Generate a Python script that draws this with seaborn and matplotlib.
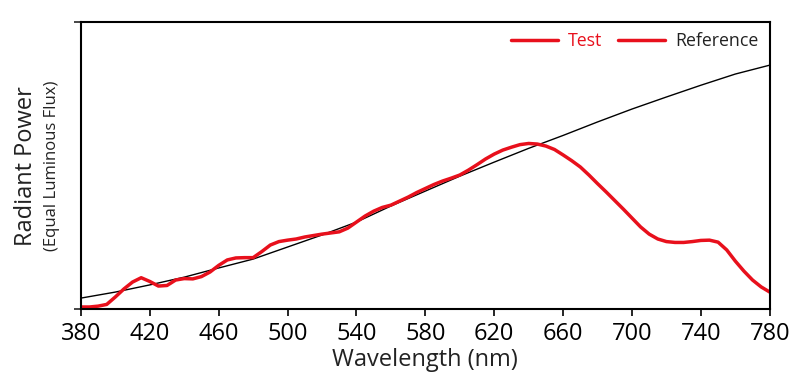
import matplotlib.pyplot as plt
import seaborn as sns
import pandas as pd
from matplotlib.lines import Line2D

# ---------- dados ----------
test_wl = [380, 385, 390, 395, 400, 405, 410, 415, 420, 425, 430, 435, 440, 445,
           450, 455, 460, 465, 470, 475, 480, 485, 490, 495, 500, 505, 510, 515,
           520, 525, 530, 535, 540, 545, 550, 555, 560, 565, 570, 575, 580, 585,
           590, 595, 600, 605, 610, 615, 620, 625, 630, 635, 640, 645, 650, 655,
           660, 665, 670, 675, 680, 685, 690, 695, 700, 705, 710, 715, 720, 725,
           730, 735, 740, 745, 750, 755, 760, 765, 770, 775, 780]
test_power = [0.007, 0.007, 0.010, 0.016, 0.042, 0.070, 0.094, 0.109, 0.096, 0.080,
              0.082, 0.101, 0.106, 0.105, 0.113, 0.129, 0.152, 0.171, 0.178, 0.179,
              0.179, 0.200, 0.223, 0.235, 0.240, 0.244, 0.251, 0.256, 0.261, 0.265,
              0.269, 0.282, 0.303, 0.324, 0.341, 0.354, 0.362, 0.376, 0.390, 0.406,
              0.420, 0.434, 0.446, 0.456, 0.467, 0.484, 0.503, 0.523, 0.540, 0.554,
              0.564, 0.573, 0.577, 0.575, 0.568, 0.556, 0.537, 0.517, 0.495, 0.467,
              0.437, 0.408, 0.378, 0.348, 0.317, 0.286, 0.261, 0.244, 0.235, 0.232,
              0.232, 0.235, 0.239, 0.240, 0.233, 0.206, 0.167, 0.132, 0.101, 0.077,
              0.059]

ref_wl = [380, 400, 420, 440, 460, 480, 500, 520, 540, 560, 580, 600, 620, 640,
          660, 680, 700, 720, 740, 760, 780]
ref_power = [0.038, 0.059, 0.084, 0.111, 0.143, 0.174, 0.216, 0.258, 0.303, 0.359,
             0.411, 0.463, 0.512, 0.560, 0.605, 0.652, 0.697, 0.739, 0.780, 0.819,
             0.850]

x_ticks = [380, 420, 460, 500, 540, 580, 620, 660, 700, 740, 780]

sns.set_theme(style="white")
plt.rcParams["font.family"] = ["Open Sans", "DejaVu Sans"]

df_test = pd.DataFrame({"wl": test_wl, "power": test_power})
df_ref = pd.DataFrame({"wl": ref_wl, "power": ref_power})

fig = plt.figure(figsize=(8.01, 3.88), dpi=100)
ax = fig.add_axes([0.101, 0.2036, 0.86, 0.7394])

sns.lineplot(data=df_ref, x="wl", y="power", color="black", linewidth=1.0, ax=ax)
sns.lineplot(data=df_test, x="wl", y="power", color="#e8101c", linewidth=2.5, ax=ax)

ax.set_xlim(380, 780)
ax.set_ylim(0, 1)
ax.set_xticks(x_ticks)
ax.set_yticks([0, 1])
ax.set_yticklabels([])
ax.tick_params(axis="x", direction="out", length=5, width=1.2, labelsize=17,
               colors="black", pad=4, bottom=True)
ax.tick_params(axis="y", direction="out", length=5, width=1.2, left=True)
for sp in ax.spines.values():
    sp.set_color("black")
    sp.set_linewidth(1.5)

ax.set_xlabel("Wavelength (nm)", fontsize=17, color="#222222", labelpad=2)
ax.set_ylabel("")
fig.text(0.032, 0.573, "Radiant Power", rotation=90, fontsize=17,
         ha="center", va="center", color="#222222")
fig.text(0.065, 0.573, "(Equal Luminous Flux)", rotation=90, fontsize=12,
         ha="center", va="center", color="#222222")

#legenda (as duas linhas aparecem vermelhas)
handles = [Line2D([], [], color="#e8101c", linewidth=2.5),
           Line2D([], [], color="#e8101c", linewidth=2.5)]
leg = ax.legend(handles, ["Test", "Reference"], ncol=2, loc="upper right",
                frameon=False, fontsize=12.8, handlelength=2.6, columnspacing=0.9,
                handletextpad=0.6, borderaxespad=0.15, bbox_to_anchor=(0.998, 1.0))
leg.get_texts()[0].set_color("#e8101c")
leg.get_texts()[1].set_color("#222222")

plt.savefig("out.png", dpi=100)
